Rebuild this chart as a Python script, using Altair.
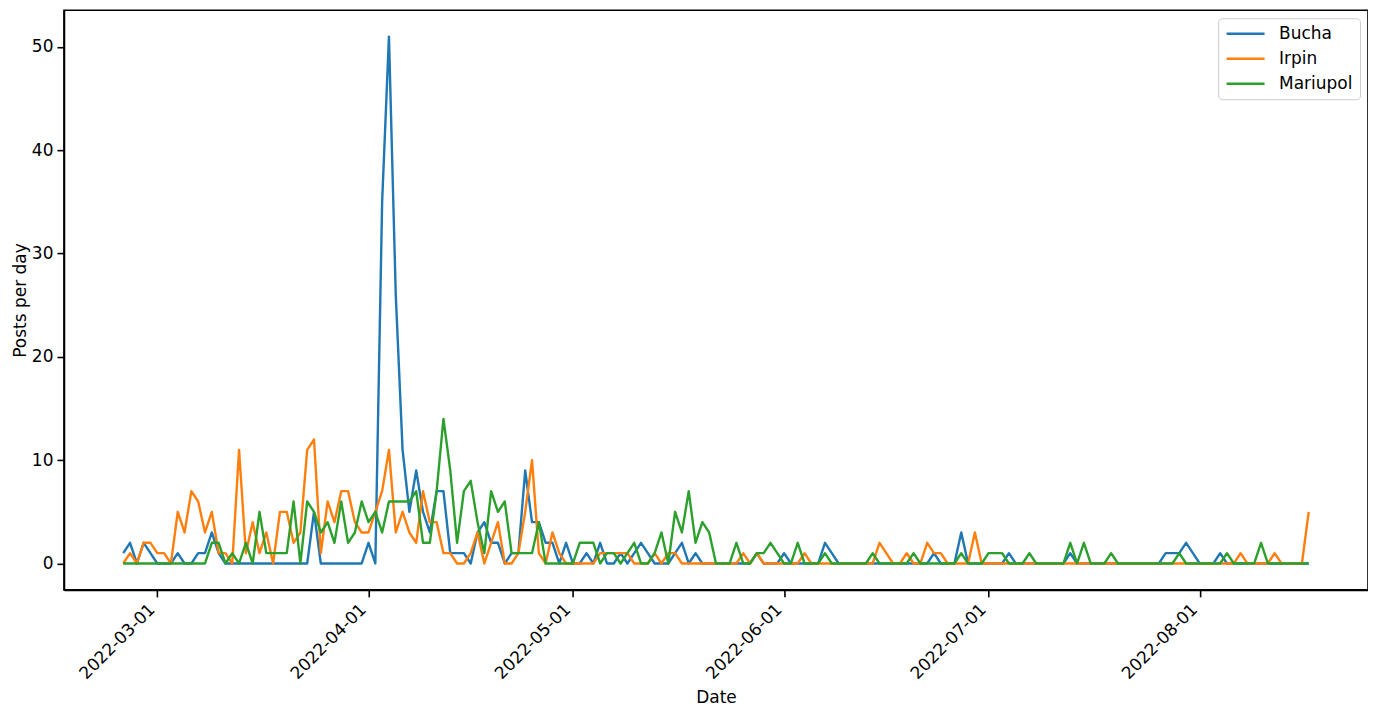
import altair as alt
import pandas as pd

start_date = "2022-02-24"
series_names = ["Bucha", "Irpin", "Mariupol"]
series_colors = ["#1f77b4", "#ff7f0e", "#2ca02c"]

bucha = [
    1, 2, 0, 2, 1, 0, 0, 0, 1, 0,
    0, 1, 1, 3, 1, 0, 0, 0, 0, 0,
    0, 0, 0, 0, 0, 0, 0, 0, 5, 0,
    0, 0, 0, 0, 0, 0, 2, 0, 35, 51,
    26, 11, 5, 9, 5, 3, 7, 7, 1, 1,
    1, 0, 3, 4, 2, 2, 0, 1, 1, 9,
    4, 4, 2, 2, 0, 2, 0, 0, 1, 0,
    2, 0, 0, 1, 0, 1, 2, 1, 0, 0,
    0, 1, 2, 0, 1, 0, 0, 0, 0, 0,
    0, 0, 0, 1, 0, 0, 0, 1, 0, 0,
    0, 0, 0, 2, 1, 0, 0, 0, 0, 0,
    0, 0, 0, 0, 0, 0, 0, 0, 0, 1,
    0, 0, 0, 3, 0, 0, 0, 0, 0, 0,
    1, 0, 0, 0, 0, 0, 0, 0, 0, 1,
    0, 0, 0, 0, 0, 0, 0, 0, 0, 0,
    0, 0, 0, 1, 1, 1, 2, 1, 0, 0,
    0, 1, 0, 0, 0, 0, 0, 0, 0, 0,
    0, 0, 0, 0, 0,
]

irpin = [
    0, 1, 0, 2, 2, 1, 1, 0, 5, 3,
    7, 6, 3, 5, 1, 1, 0, 11, 1, 4,
    1, 3, 0, 5, 5, 2, 3, 11, 12, 1,
    6, 4, 7, 7, 4, 3, 3, 5, 7, 11,
    3, 5, 3, 2, 7, 4, 4, 1, 1, 0,
    0, 1, 3, 0, 2, 4, 0, 0, 1, 5,
    10, 1, 0, 3, 1, 0, 0, 0, 0, 0,
    1, 1, 1, 1, 1, 0, 0, 0, 1, 0,
    1, 1, 0, 0, 0, 0, 0, 0, 0, 0,
    0, 1, 0, 1, 0, 0, 0, 0, 0, 0,
    1, 0, 0, 0, 0, 0, 0, 0, 0, 0,
    0, 2, 1, 0, 0, 1, 0, 0, 2, 1,
    1, 0, 0, 0, 0, 3, 0, 0, 0, 0,
    0, 0, 0, 0, 0, 0, 0, 0, 0, 0,
    0, 0, 0, 0, 0, 0, 0, 0, 0, 0,
    0, 0, 0, 0, 0, 0, 0, 0, 0, 0,
    0, 0, 0, 0, 1, 0, 0, 0, 0, 1,
    0, 0, 0, 0, 5,
]

mariupol = [
    0, 0, 0, 0, 0, 0, 0, 0, 0, 0,
    0, 0, 0, 2, 2, 0, 1, 0, 2, 0,
    5, 1, 1, 1, 1, 6, 0, 6, 5, 3,
    4, 2, 6, 2, 3, 6, 4, 5, 3, 6,
    6, 6, 6, 7, 2, 2, 7, 14, 9, 2,
    7, 8, 4, 1, 7, 5, 6, 1, 1, 1,
    1, 4, 0, 0, 0, 0, 0, 2, 2, 2,
    0, 1, 1, 0, 1, 2, 0, 0, 1, 3,
    0, 5, 3, 7, 2, 4, 3, 0, 0, 0,
    2, 0, 0, 1, 1, 2, 1, 0, 0, 2,
    0, 0, 0, 1, 0, 0, 0, 0, 0, 0,
    1, 0, 0, 0, 0, 0, 1, 0, 0, 0,
    0, 0, 0, 1, 0, 0, 0, 1, 1, 1,
    0, 0, 0, 1, 0, 0, 0, 0, 0, 2,
    0, 2, 0, 0, 0, 1, 0, 0, 0, 0,
    0, 0, 0, 0, 0, 1, 0, 0, 0, 0,
    0, 0, 1, 0, 0, 0, 0, 2, 0, 0,
    0, 0, 0, 0, 0,
]

tick_dates = ["2022-03-01", "2022-04-01", "2022-05-01", "2022-06-01", "2022-07-01", "2022-08-01"]
y_ticks = [0, 10, 20, 30, 40, 50]

n = len(bucha)
dates = pd.date_range(start_date, periods=n, freq="D").strftime("%Y-%m-%d").tolist()

rows = []
for name, vals in zip(series_names, [bucha, irpin, mariupol]):
    for d, v in zip(dates, vals):
        rows.append({"date": d, "value": v, "series": name})
df = pd.DataFrame(rows)


def dt(s, h=0, m=0):
    y, mo, da = (int(p) for p in s.split("-"))
    return alt.DateTime(year=y, month=mo, date=da, hours=h, minutes=m, utc=True)


x_domain = [dt("2022-02-15", 7, 12), dt("2022-08-25", 16, 48)]

FONT = "DejaVu Sans"
FS = 17

chart = (
    alt.Chart(df)
    .mark_line(strokeWidth=2.4, strokeJoin="round")
    .encode(
        x=alt.X(
            "date:T",
            scale=alt.Scale(type="utc", domain=x_domain, nice=False),
            axis=alt.Axis(
                values=[dt(t) for t in tick_dates],
                labelExpr="utcFormat(datum.value, '%Y-%m-%d')",
                labelAngle=315,
                labelAlign="right",
                labelBaseline="top",
                labelOffset=-11,
                labelPadding=4,
                tickSize=7,
                title="Date",
                titlePadding=8,
            ),
        ),
        y=alt.Y(
            "value:Q",
            scale=alt.Scale(domain=[-2.55, 53.55], nice=False, zero=False),
            axis=alt.Axis(
                values=y_ticks,
                tickSize=7,
                labelPadding=4,
                title="Posts per day",
                titlePadding=2,
            ),
        ),
        color=alt.Color(
            "series:N",
            scale=alt.Scale(domain=series_names, range=series_colors),
            legend=alt.Legend(
                title=None,
                orient="top-right",
                offset=8,
                symbolType="stroke",
                symbolSize=1444,
                symbolStrokeWidth=2.4,
                clipHeight=17,
                labelFontSize=FS,
                labelFont=FONT,
                labelColor="black",
                labelOffset=13,
                rowPadding=7,
                padding=7,
                strokeColor="#cccccc",
                fillColor="white",
                cornerRadius=4,
            ),
        ),
        order=alt.Order("date:T"),
    )
    .properties(
        width=1305,
        height=580,
        autosize=alt.AutoSizeParams(type="none"),
        padding={"left": 56, "top": 2, "right": 0, "bottom": 116},
    )
    .configure_view(stroke="black", strokeWidth=1.6)
    .configure_axis(
        grid=False,
        domainColor="black",
        domainWidth=1.6,
        tickColor="black",
        tickWidth=1.6,
        labelColor="black",
        titleColor="black",
        labelFont=FONT,
        titleFont=FONT,
        labelFontSize=FS,
        titleFontSize=FS,
        titleFontWeight="normal",
    )
)

chart.save("out.html", embed_options={"renderer": "svg", "actions": False})
